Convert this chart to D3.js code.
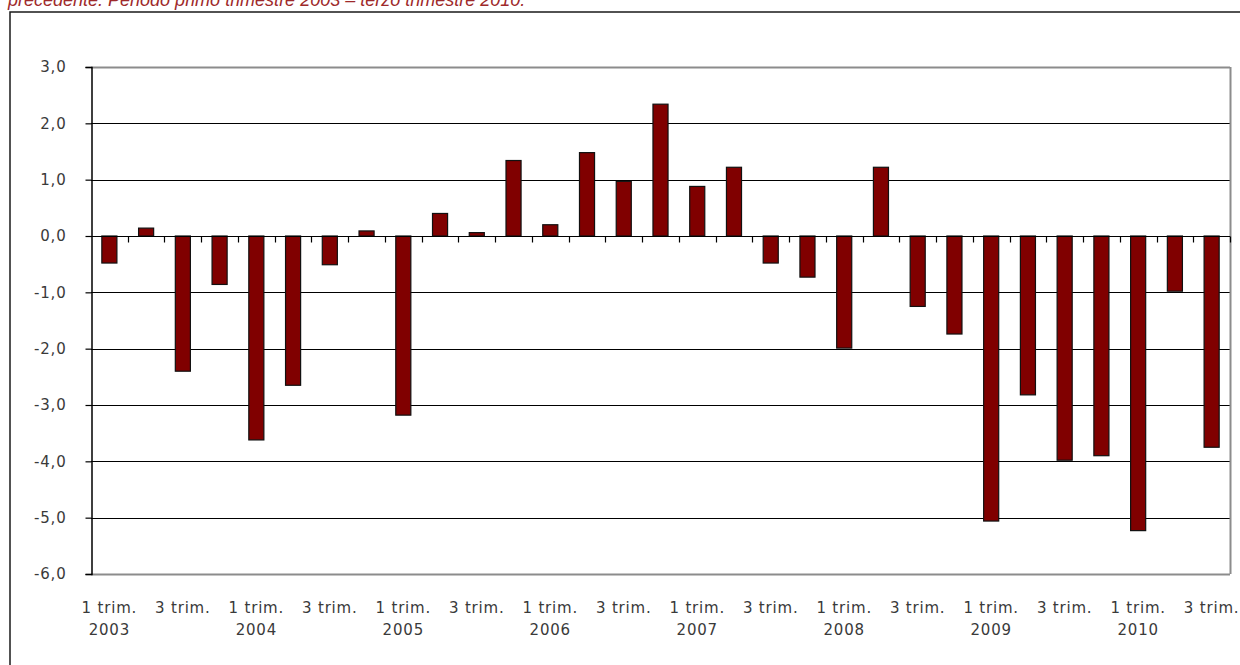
<!DOCTYPE html>
<html>
<head>
<meta charset="utf-8">
<script src="https://cdn.jsdelivr.net/npm/d3@7"></script>
<style>
  html, body { margin: 0; padding: 0; background: #fff; }
  svg { display: block; }
</style>
</head>
<body>
<svg id="chart" width="1240" height="665"></svg>
<script>
// ---- data ----
const years = ["2003","2004","2005","2006","2007","2008","2009","2010"];
const quarters = ["1 trim.","2 trim.","3 trim.","4 trim."];
const categories = [];
years.forEach(y => quarters.forEach((q, i) => categories.push({ year: y, q: i + 1, label: q })));
categories.length = 31; // 1 trim. 2003 .. 3 trim. 2010
const values = [
  -0.48, 0.14, -2.40, -0.86,
  -3.62, -2.65, -0.51, 0.09,
  -3.18, 0.40, 0.06, 1.34,
  0.20, 1.48, 0.97, 2.34,
  0.88, 1.22, -0.48, -0.73,
  -1.99, 1.22, -1.25, -1.74,
  -5.06, -2.82, -3.98, -3.90,
  -5.23, -0.98, -3.75
];
const yTicks = [3, 2, 1, 0, -1, -2, -3, -4, -5, -6];
const titleText = "precedente. Periodo primo trimestre 2003 \u2013 terzo trimestre 2010.";

// ---- layout ----
const svg = d3.select("#chart");
const L = 91, R = 1230, T = 67, B = 574;
const labelFont = "'DejaVu Sans', Verdana, sans-serif";

// title (cut off at the top, as in the source page)
svg.append("text")
  .attr("x", 8).attr("y", 6)
  .attr("font-family", "'Liberation Sans', Arial, sans-serif")
  .attr("font-style", "italic")
  .attr("font-size", 18)
  .attr("fill", "#9e2a2b")
  .text(titleText);

// outer frame
svg.append("rect")
  .attr("x", 10).attr("y", 12)
  .attr("width", 1250).attr("height", 680)
  .attr("fill", "none")
  .attr("stroke", "#1a1a1a")
  .attr("stroke-width", 1.5);

const x = d3.scaleBand()
  .domain(d3.range(categories.length))
  .range([L, R])
  .padding(0);

const y = d3.scaleLinear().domain([-6, 3]).range([B, T]);

// grid lines
svg.append("g").selectAll("line")
  .data(yTicks)
  .join("line")
  .attr("x1", L).attr("x2", R)
  .attr("y1", d => Math.round(y(d)) + 0.5)
  .attr("y2", d => Math.round(y(d)) + 0.5)
  .attr("stroke", d => (d === 3 || d === -6) ? "#8c8c8c" : "#000")
  .attr("stroke-width", d => (d === 3 || d === -6) ? 2 : 1);

// right border of plot area
svg.append("line")
  .attr("x1", R + 0.5).attr("x2", R + 0.5)
  .attr("y1", y(3)).attr("y2", y(-6))
  .attr("stroke", "#8c8c8c").attr("stroke-width", 2);

// bars
const barW = x.bandwidth() * 0.41;
svg.append("g").selectAll("rect")
  .data(values)
  .join("rect")
  .attr("x", (d, i) => x(i) + (x.bandwidth() - barW) / 2)
  .attr("width", barW)
  .attr("y", d => y(Math.max(0, d)))
  .attr("height", d => Math.abs(y(d) - y(0)))
  .attr("fill", "#800000")
  .attr("stroke", "#111")
  .attr("stroke-width", 1.2);

// x axis line at zero and tick marks at category boundaries
const zeroY = Math.round(y(0)) + 0.5;
svg.append("line")
  .attr("x1", L).attr("x2", R)
  .attr("y1", zeroY).attr("y2", zeroY)
  .attr("stroke", "#000").attr("stroke-width", 1);
svg.append("g").selectAll("line")
  .data(d3.range(1, categories.length + 1))
  .join("line")
  .attr("x1", i => Math.round(i < categories.length ? x(i) : R) + 0.5)
  .attr("x2", i => Math.round(i < categories.length ? x(i) : R) + 0.5)
  .attr("y1", zeroY).attr("y2", zeroY + 6)
  .attr("stroke", "#000").attr("stroke-width", 1.2);

// y axis
const yAxis = svg.append("g")
  .attr("transform", `translate(${L + 0.5},0)`)
  .call(d3.axisLeft(y)
    .tickValues(yTicks)
    .tickSize(6)
    .tickPadding(19)
    .tickFormat(d => d3.format(".1f")(d).replace(".", ",").replace("\u2212", "-")));
yAxis.select(".domain").attr("stroke", "#000").attr("stroke-width", 1.5);
yAxis.selectAll(".tick line").attr("stroke", "#000").attr("stroke-width", 1.2);
yAxis.selectAll(".tick text")
  .attr("font-family", labelFont)
  .attr("font-size", 15)
  .attr("letter-spacing", 0.8)
  .attr("fill", "#3a3a3a");

// x labels
const xl = svg.append("g").selectAll("text")
  .data(categories.map((c, i) => ({ c, i })).filter(d => d.i % 2 === 0))
  .join("text")
  .attr("x", d => x(d.i) + x.bandwidth() / 2)
  .attr("y", 613)
  .attr("text-anchor", "middle")
  .attr("font-family", labelFont)
  .attr("font-size", 15)
  .attr("letter-spacing", 0.8)
  .attr("fill", "#3a3a3a");
xl.append("tspan")
  .attr("x", d => x(d.i) + x.bandwidth() / 2)
  .text(d => d.c.label);
xl.filter(d => d.c.q === 1).append("tspan")
  .attr("x", d => x(d.i) + x.bandwidth() / 2)
  .attr("dy", 22)
  .text(d => d.c.year);
</script>
</body>
</html>
